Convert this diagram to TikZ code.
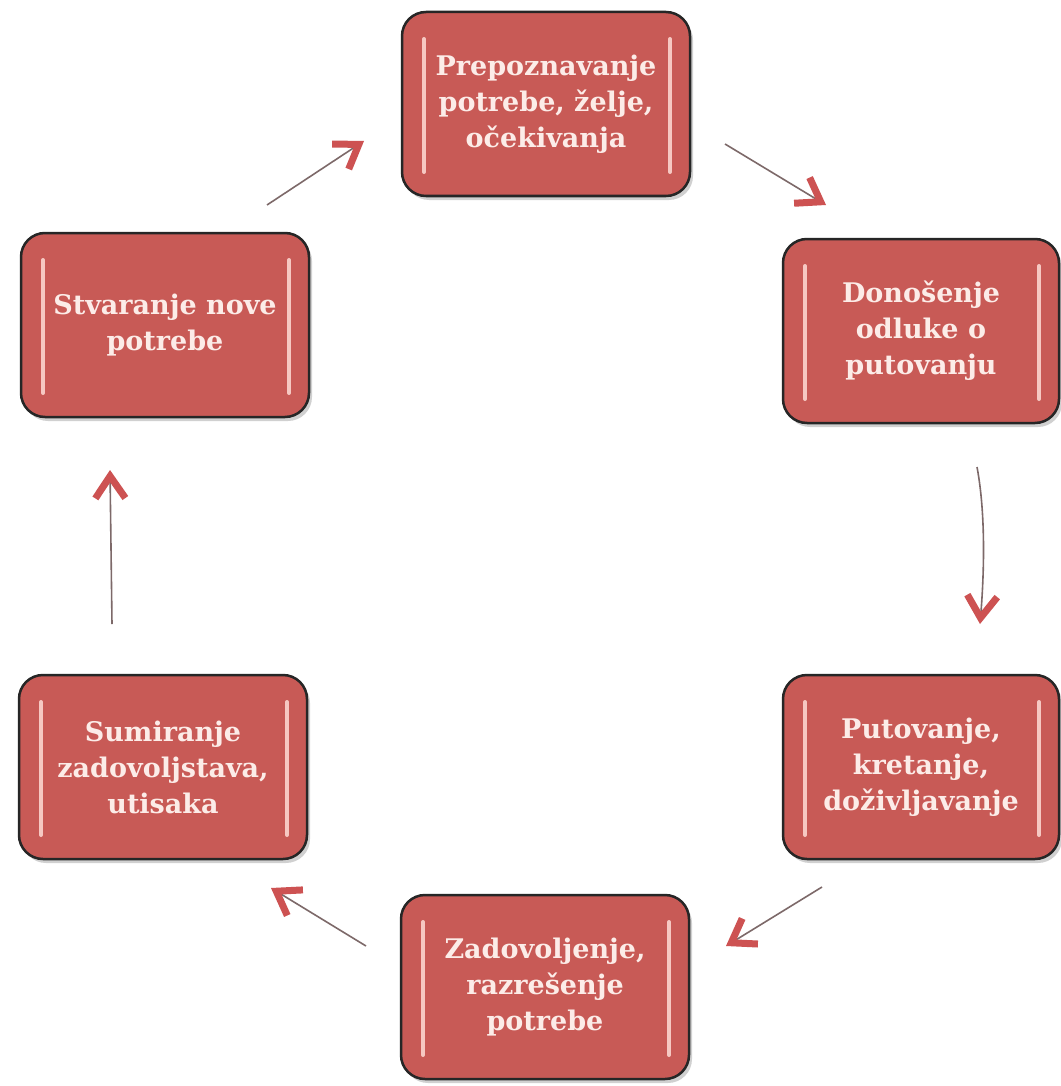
\documentclass[tikz,border=0pt]{standalone}
\usepackage{fontspec}
\setmainfont{DejaVu Serif}
\usetikzlibrary{arrows.meta,shadows}
\definecolor{boxfill}{RGB}{200,90,86}
\definecolor{boxtext}{RGB}{252,236,232}
\definecolor{hilite}{RGB}{246,200,194}
\definecolor{arrred}{RGB}{205,82,82}
\definecolor{arrline}{RGB}{125,105,105}
\tikzset{
  stagebox/.style={draw=black!85, line width=2.5pt, fill=boxfill, rounded corners=24pt,
    minimum width=288pt, minimum height=184pt, inner sep=0pt, outer sep=0pt,
    align=center, text=boxtext, font=\bfseries\fontsize{27}{36}\selectfont,
    drop shadow={shadow xshift=3pt, shadow yshift=-4pt, fill=black!30, opacity=0.6}},
  narrowbox/.style={stagebox, minimum width=276pt},
  hl/.style={draw=hilite, line width=4pt, line cap=round},
  flow/.style={draw=arrline, line width=1.6pt,
    -{Straight Barb[color=arrred, length=22pt, width=30pt, line width=7pt]}}
}
\begin{document}
\begin{tikzpicture}[x=1pt,y=-1pt]
\path[use as bounding box, fill=white] (0,0) rectangle (1060,1086);

\node[stagebox]  (n1) at (546,104) {Prepoznavanje\\potrebe, želje,\\očekivanja};
\node[narrowbox] (n2) at (921,331) {Donošenje\\odluke o\\putovanju};
\node[narrowbox] (n3) at (921,767) {Putovanje,\\kretanje,\\doživljavanje};
\node[stagebox]  (n4) at (545,987) {Zadovoljenje,\\razrešenje\\potrebe};
\node[stagebox]  (n5) at (163,767) {Sumiranje\\zadovoljstava,\\utisaka};
\node[stagebox]  (n6) at (165,325) {Stvaranje nove\\potrebe};

\foreach \n in {n1,n2,n3,n4,n5,n6}{
  \draw[hl] ([xshift=22pt,yshift=-27pt]\n.north west) -- ([xshift=22pt,yshift=24pt]\n.south west);
  \draw[hl] ([xshift=-20pt,yshift=-27pt]\n.north east) -- ([xshift=-20pt,yshift=24pt]\n.south east);
}

% connector end points
\coordinate (a1s) at (725,144);  \coordinate (a1e) at (826,205);
\coordinate (a2s) at (977,467);  \coordinate (a2e) at (980,624);
\coordinate (a3s) at (822,887);  \coordinate (a3e) at (726,946);
\coordinate (a4s) at (366,946);  \coordinate (a4e) at (271,888);
\coordinate (a5s) at (112,624);  \coordinate (a5e) at (110,470);
\coordinate (a6s) at (267,205);  \coordinate (a6e) at (364,141);

\draw[flow] (a1s) -- (a1e);
\draw[flow] (a2s) .. controls (986,515) and (984,575) .. (a2e);
\draw[flow] (a3s) -- (a3e);
\draw[flow] (a4s) -- (a4e);
\draw[flow] (a5s) -- (a5e);
\draw[flow] (a6s) -- (a6e);
\end{tikzpicture}
\end{document}
